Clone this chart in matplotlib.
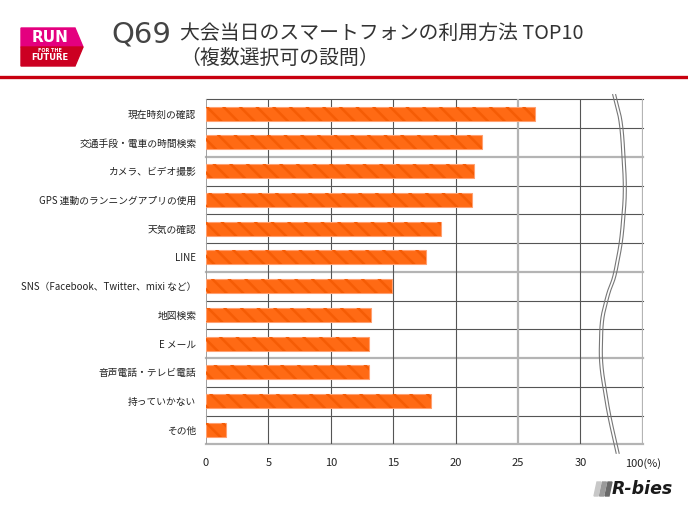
import matplotlib
matplotlib.use("Agg")
import matplotlib.pyplot as plt
from matplotlib.patches import Polygon
from matplotlib.lines import Line2D
import numpy as np

plt.rcParams['font.family'] = ['Noto Sans CJK JP', 'DejaVu Sans']

categories = ['現在時刻の確認', '交通手段・電車の時間検索', 'カメラ、ビデオ撮影',
              'GPS 連動のランニングアプリの使用', '天気の確認', 'LINE',
              'SNS（Facebook、Twitter、mixi など）', '地図検索', 'E メール',
              '音声電話・テレビ電話', '持っていかない', 'その他']
values = [26.4, 22.1, 21.5, 21.3, 18.8, 17.6, 14.9, 13.2, 13.1, 13.1, 18.0, 1.6]
tick_pos = [0, 5, 10, 15, 20, 25, 30, 35]
tick_labels = ['0', '5', '10', '15', '20', '25', '30', '100(%)']

W, H = 688, 516
fig = plt.figure(figsize=(W / 100, H / 100), dpi=100)


def fx(px):
    return px / W


def fy(py):
    return 1 - py / H


ax = fig.add_axes([fx(206), fy(444.3), fx(642.7) - fx(206), fy(99.3) - fy(444.3)])

y = np.arange(len(categories))
ax.barh(y, values, height=0.49, color='#ff6a14', edgecolor='#ffa070', linewidth=0.8, zorder=3)
plt.rcParams['hatch.linewidth'] = 1.8
ax.barh(y, values, height=0.49, fill=False, hatch='\\\\', edgecolor='#f55c05', linewidth=0, zorder=4)

ax.set_xlim(0, 35)
ax.set_ylim(len(categories) - 0.5, -0.5)

# grid
light_rows = [2, 6, 9, 12]
for k in range(len(categories) + 1):
    if k in light_rows:
        ax.axhline(k - 0.5, color='#b4b4b4', lw=1.6, zorder=1, clip_on=False)
    else:
        ax.axhline(k - 0.5, color='#555555', lw=0.8, zorder=1, clip_on=False)
for xv in tick_pos[1:]:
    if xv in (25, 35):
        ax.axvline(xv, color='#b4b4b4', lw=1.6, zorder=1)
    else:
        ax.axvline(xv, color='#555555', lw=0.8, zorder=1)
ax.axvline(0, color='#a0a0a0', lw=1.4, zorder=2)

for s in ax.spines.values():
    s.set_visible(False)

ax.set_yticks(y)
ax.set_yticklabels(categories, fontsize=7, color='#222222')
ax.set_xticks(tick_pos)
ax.set_xticklabels(tick_labels, fontsize=8, color='#222222')
ax.tick_params(length=0)
ax.tick_params(axis='y', pad=7)
ax.tick_params(axis='x', pad=10)

# break mark
bx = np.array([612, 620, 624, 620, 613, 607, 600, 599, 607, 617])
by = np.array([92, 123, 190, 240, 277, 292, 320, 363, 413, 457])
t = np.linspace(0, 1, len(bx))
tt = np.linspace(0, 1, 200)
sx = np.interp(tt, t, bx)
sy = np.interp(tt, t, by)
k = np.ones(15) / 15
sx = np.convolve(np.pad(sx, 7, mode='edge'), k, mode='valid')
sy = np.convolve(np.pad(sy, 7, mode='edge'), k, mode='valid')
for off in (0, 3):
    fig.add_artist(Line2D(fx(sx + off), fy(sy), color='#777777', lw=0.8))

# header
fig.add_artist(Line2D([0, 1], [fy(77), fy(77)], color='#c8000f', lw=2.4))
fig.add_artist(Polygon([(fx(21), fy(28)), (fx(75), fy(28)), (fx(83), fy(47)),
                        (fx(21), fy(47))], closed=True, color='#e4007f'))
fig.add_artist(Polygon([(fx(21), fy(47)), (fx(83), fy(47)), (fx(75), fy(66)),
                        (fx(21), fy(66))], closed=True, color='#cc0022'))
fig.text(fx(50), fy(38), 'RUN', color='white', fontsize=11, fontweight='bold',
         ha='center', va='center', family=['DejaVu Sans'])
fig.text(fx(50), fy(50), 'FOR THE', color='white', fontsize=3.5, fontweight='bold',
         ha='center', va='center', family=['DejaVu Sans'])
fig.text(fx(50), fy(58), 'FUTURE', color='white', fontsize=6, fontweight='bold',
         ha='center', va='center', family=['DejaVu Sans'])

fig.text(fx(111), fy(34), 'Q69', color='#444444', fontsize=21, ha='left', va='center',
         family=['DejaVu Sans'])
fig.text(fx(180), fy(33), '大会当日のスマートフォンの利用方法 TOP10', color='#333333',
         fontsize=14.3, ha='left', va='center')
fig.text(fx(180), fy(58), '（複数選択可の設問）', color='#333333',
         fontsize=14.3, ha='left', va='center')

# R-bies logo
for i, c in enumerate(['#c8c8c8', '#9a9a9a', '#6a6a6a']):
    x0 = 594 + i * 5.5
    fig.add_artist(Polygon([(fx(x0 + 3), fy(482)), (fx(x0 + 7), fy(482)),
                            (fx(x0 + 4), fy(496)), (fx(x0), fy(496))],
                           closed=True, color=c))
fig.text(fx(612), fy(489), 'R-bies', color='#1a1a1a', fontsize=12.5, fontweight='bold',
         fontstyle='italic', ha='left', va='center', family=['DejaVu Sans'])

fig.savefig('out.png', dpi=100)
